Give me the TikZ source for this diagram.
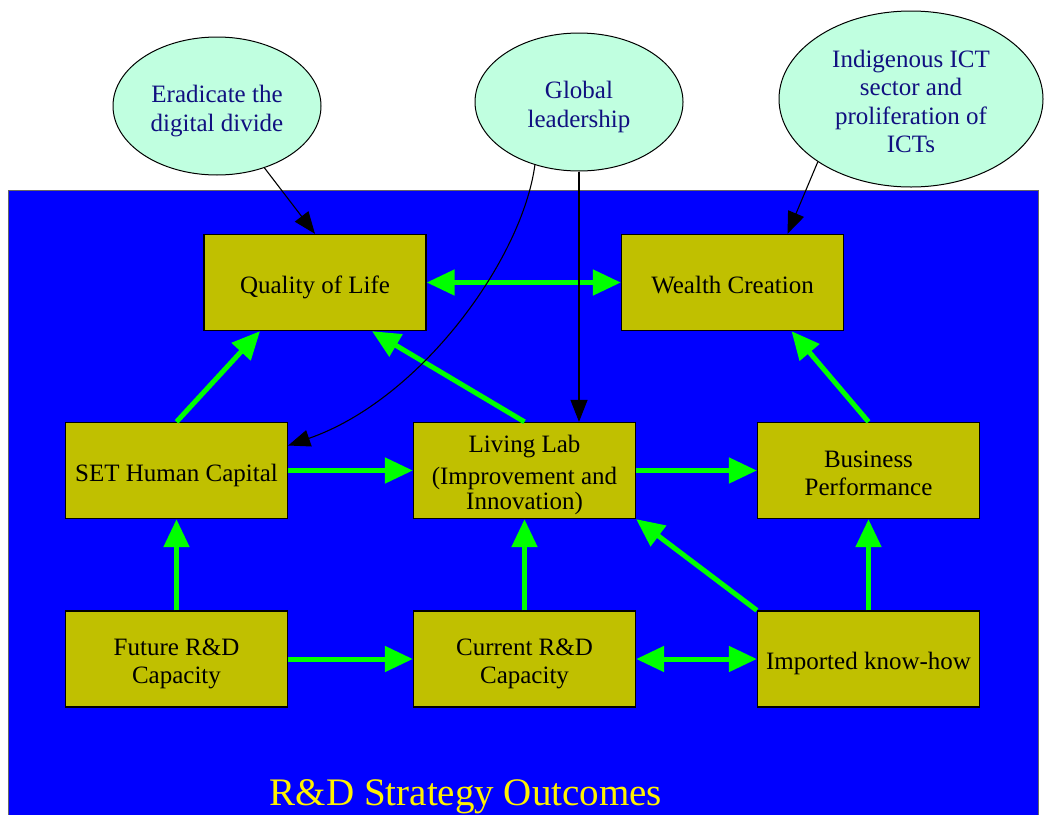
\documentclass[tikz,border=0pt]{standalone}
\usepackage{fontspec}
\setmainfont{Liberation Serif}
\usetikzlibrary{arrows.meta, positioning, shapes.geometric}

\definecolor{olivebox}{RGB}{192,192,0}
\definecolor{mintgoal}{RGB}{192,255,224}
\definecolor{navytext}{RGB}{16,16,128}

\begin{document}
\begin{tikzpicture}[x=1pt, y=-1pt,
  outcome/.style={draw=black, line width=1.3pt, fill=olivebox, minimum width=222pt,
    minimum height=96pt, inner sep=0pt, text width=222pt, align=flush center,
    font=\fontsize{25}{28}\selectfont,
    execute at begin node={\rule{0pt}{29pt}}, execute at end node={\rule[-8pt]{0pt}{8pt}}},
  goal/.style={ellipse, draw=black, line width=1pt, fill=mintgoal, inner sep=0pt,
    text width=140pt, align=flush center, text=navytext, font=\fontsize{25}{28.5}\selectfont,
    execute at begin node={\rule{0pt}{29pt}}, execute at end node={\rule[-7pt]{0pt}{7pt}}},
  flow/.style={draw=green, line width=5pt, -{Triangle[length=28pt,width=25pt]}},
  twoway/.style={draw=green, line width=5pt,
    {Triangle[length=28pt,width=25pt]}-{Triangle[length=28pt,width=25pt]}},
  aim/.style={draw=black, line width=1.1pt, -{Triangle[length=22pt,width=17pt]}}]
\useasboundingbox (0,0) rectangle (1048,814);

% Frame
\draw[draw=black!60, fill=blue] (8,190) rectangle (1038,820);
\node[text=yellow, font=\fontsize{39}{44}\selectfont, anchor=base] (title) at (466,805) {R\&D Strategy Outcomes};

% Goals
\node[goal, minimum width=208pt, minimum height=138pt] (erad) at (217,106) {Eradicate the\\digital divide};
\node[goal, minimum width=208pt, minimum height=138pt] (glob) at (579,102) {Global\\leadership};
\node[goal, text width=160pt, minimum width=264pt, minimum height=176pt] (indig) at (911,99) {Indigenous ICT\\sector and\\proliferation of\\ICTs};

% Outcomes
\node[outcome] (qol) at (315,282.5) {Quality of Life};
\node[outcome] (wealth) at (732.5,282.5) {Wealth Creation};
\node[outcome] (human) at (176.5,470.5) {SET Human Capital};
\node[outcome] (lab) at (524.5,470.5) {Living Lab\\[4pt](Improvement and\\[-3pt]Innovation)};
\node[outcome] (biz) at (868.5,470.5) {Business\\Performance};
\node[outcome] (future) at (176.5,659) {Future R\&D\\Capacity};
\node[outcome] (current) at (524.5,659) {Current R\&D\\Capacity};
\node[outcome] (imported) at (868.5,659) {Imported know-how};

% Flows
\draw[twoway] (qol) -- (wealth);
\draw[flow] (human.north) -- ([xshift=-55pt]qol.south);
\draw[flow] (lab.north) -- ([xshift=57pt]qol.south);
\draw[flow] (biz.north) -- ([xshift=59pt]wealth.south);
\draw[flow] (human) -- (lab);
\draw[flow] (lab) -- (biz);
\draw[flow] (future) -- (human);
\draw[flow] (current) -- (lab);
\draw[flow] (imported) -- (biz);
\draw[flow] (imported.north west) -- (lab.south east);
\draw[flow] (future) -- (current);
\draw[twoway] (current) -- (imported);

% Goal links
\draw[aim] (erad) -- (qol.north);
\draw[aim] (indig.214) -- ([xshift=55pt]wealth.north);
\draw[aim] (glob.south) -- (glob.south |- lab.north);
\draw[aim] (glob.235) .. controls (522,260) and (420,400) .. ([yshift=25pt]human.east);
\end{tikzpicture}
\end{document}
